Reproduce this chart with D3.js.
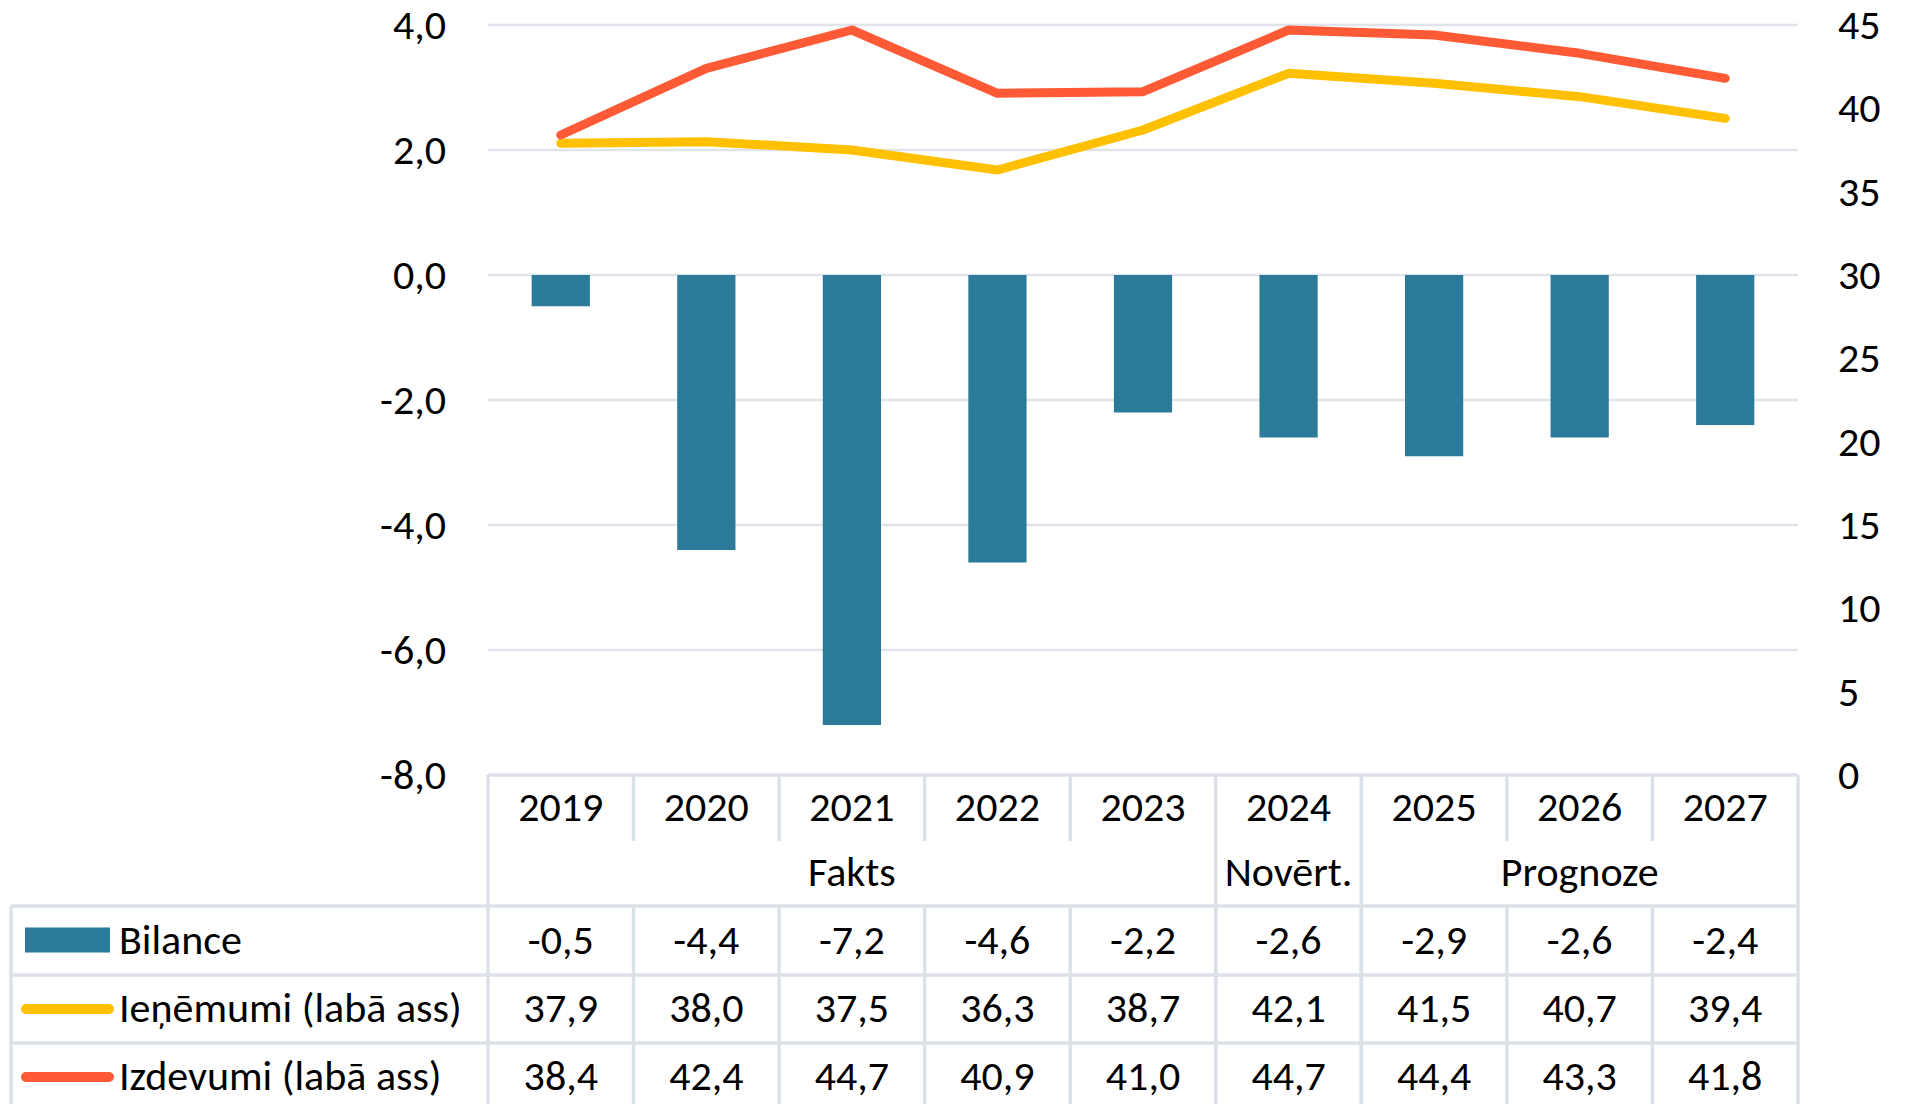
<!DOCTYPE html>
<html>
<head>
<meta charset="utf-8">
<script src="https://cdn.jsdelivr.net/npm/d3@7"></script>
<style>
  body { margin: 0; background: #fff; }
  svg text { font-family: Carlito, Lato, sans-serif; font-size: 42px; fill: #000; }
</style>
</head>
<body>
<div id="chart"></div>
<script>
// Data
var years = ["2019", "2020", "2021", "2022", "2023", "2024", "2025", "2026", "2027"];
var bilance = [-0.5, -4.4, -7.2, -4.6, -2.2, -2.6, -2.9, -2.6, -2.4];
var ienemumi = [37.9, 38.0, 37.5, 36.3, 38.7, 42.1, 41.5, 40.7, 39.4];
var izdevumi = [38.4, 42.4, 44.7, 40.9, 41.0, 44.7, 44.4, 43.3, 41.8];
var seriesNames = ["Bilance", "Ieņēmumi (labā ass)", "Izdevumi (labā ass)"];
var groupNames = ["Fakts", "Novērt.", "Prognoze"];
var groupFirst = ["2019", "2024", "2025"];
var groupLast = ["2023", "2024", "2027"];
var leftTicks = [-8, -6, -4, -2, 0, 2, 4];
var rightTicks = [0, 5, 10, 15, 20, 25, 30, 35, 40, 45];

// Setting up sizes
var svgWidth = 1906;
var svgHeight = 1104;
var plot = { left: 488, right: 1798, top: 25, bottom: 775 };
var tableLeft = 11;
var rowTops = [775, 841, 906, 975, 1043, 1111];

var colors = { bar: "#2C7A9A", rev: "#FFC000", exp: "#FF5A36", grid: "#E0E4EB", border: "#DCE1E8" };

// comma decimals and plain hyphen minus
var locale = d3.formatLocale({ decimal: ",", thousands: " ", grouping: [3], currency: ["", ""], minus: "-" });
var fmt = locale.format(".1f");

var svg = d3.select("#chart")
  .append("svg")
  .attr("width", svgWidth)
  .attr("height", svgHeight);

// Scales
var x = d3.scaleBand()
  .domain(years)
  .range([plot.left, plot.right]);

var yLeft = d3.scaleLinear()
  .domain([-8, 4])
  .range([plot.bottom, plot.top]);

var yRight = d3.scaleLinear()
  .domain([0, 45])
  .range([plot.bottom, plot.top]);

// Gridlines
svg.append("g")
  .selectAll("line")
  .data(leftTicks.filter(d => d !== -8))
  .enter()
  .append("line")
  .attr("x1", plot.left)
  .attr("x2", plot.right)
  .attr("y1", d => yLeft(d))
  .attr("y2", d => yLeft(d))
  .attr("stroke", colors.grid)
  .attr("stroke-width", 2.5);

// Left axis
var leftAxis = svg.append("g")
  .attr("transform", `translate(${plot.left - 42}, 0)`)
  .call(d3.axisLeft(yLeft).tickValues(leftTicks).tickSize(0).tickPadding(0).tickFormat(fmt));
leftAxis.select(".domain").remove();
leftAxis.selectAll("text").attr("font-size", null).attr("font-family", null);

// Right axis
var rightAxis = svg.append("g")
  .attr("transform", `translate(${plot.right + 40}, 0)`)
  .call(d3.axisRight(yRight).tickValues(rightTicks).tickSize(0).tickPadding(0));
rightAxis.select(".domain").remove();
rightAxis.selectAll("text").attr("font-size", null).attr("font-family", null);
svg.selectAll(".tick text").attr("fill", "#000");

// Bars
var barW = x.bandwidth() * 0.4;
svg.append("g")
  .selectAll("rect")
  .data(bilance)
  .enter()
  .append("rect")
  .attr("x", (d, i) => x(years[i]) + (x.bandwidth() - barW) / 2)
  .attr("y", d => yLeft(Math.max(0, d)))
  .attr("width", barW)
  .attr("height", d => Math.abs(yLeft(d) - yLeft(0)))
  .attr("fill", colors.bar);

// Lines
var line = d3.line()
  .x((d, i) => x(years[i]) + x.bandwidth() / 2)
  .y(d => yRight(d));

svg.append("path")
  .datum(ienemumi)
  .attr("d", line)
  .attr("fill", "none")
  .attr("stroke", colors.rev)
  .attr("stroke-width", 9)
  .attr("stroke-linecap", "round")
  .attr("stroke-linejoin", "round");

svg.append("path")
  .datum(izdevumi)
  .attr("d", line)
  .attr("fill", "none")
  .attr("stroke", colors.exp)
  .attr("stroke-width", 9)
  .attr("stroke-linecap", "round")
  .attr("stroke-linejoin", "round");

// ---------------- Data table ----------------
var table = svg.append("g");

function border(x1, y1, x2, y2) {
  table.append("line")
    .attr("x1", x1).attr("y1", y1)
    .attr("x2", x2).attr("y2", y2)
    .attr("stroke", colors.border)
    .attr("stroke-width", 3.5);
}

// horizontal lines
border(plot.left, rowTops[0], plot.right, rowTops[0]);
for (var r = 2; r < rowTops.length; r++) {
  border(tableLeft, rowTops[r], plot.right, rowTops[r]);
}
// outer verticals
border(tableLeft, rowTops[2], tableLeft, rowTops[5]);
border(plot.left, rowTops[0], plot.left, rowTops[5]);
border(plot.right, rowTops[0], plot.right, rowTops[5]);
// inner year separators
years.slice(1).forEach(function(y) {
  var xx = x(y);
  var isGroupEdge = groupFirst.indexOf(y) >= 0;
  border(xx, rowTops[0], xx, isGroupEdge ? rowTops[5] : rowTops[1]);
  border(xx, rowTops[2], xx, rowTops[5]);
});

// year labels
table.selectAll(".year")
  .data(years)
  .enter()
  .append("text")
  .attr("x", d => x(d) + x.bandwidth() / 2)
  .attr("y", (rowTops[0] + rowTops[1]) / 2)
  .attr("dy", "0.3em")
  .attr("text-anchor", "middle")
  .text(d => d);

// group labels
table.selectAll(".group")
  .data(groupNames)
  .enter()
  .append("text")
  .attr("x", (d, i) => (x(groupFirst[i]) + x(groupLast[i]) + x.bandwidth()) / 2)
  .attr("y", (rowTops[1] + rowTops[2]) / 2)
  .attr("dy", "0.3em")
  .attr("text-anchor", "middle")
  .text(d => d);

// value rows
var rowsData = [bilance, ienemumi, izdevumi];
rowsData.forEach(function(values, r) {
  var cy = (rowTops[r + 2] + rowTops[r + 3]) / 2;
  table.selectAll(".v" + r)
    .data(values)
    .enter()
    .append("text")
    .attr("x", (d, i) => x(years[i]) + x.bandwidth() / 2)
    .attr("y", cy)
    .attr("dy", "0.31em")
    .attr("text-anchor", "middle")
    .text(d => fmt(d));

  // legend key
  if (r === 0) {
    table.append("rect")
      .attr("x", 25).attr("y", cy - 13)
      .attr("width", 85).attr("height", 25)
      .attr("fill", colors.bar);
  } else {
    table.append("line")
      .attr("x1", 26).attr("x2", 109)
      .attr("y1", cy).attr("y2", cy)
      .attr("stroke", r === 1 ? colors.rev : colors.exp)
      .attr("stroke-width", 10)
      .attr("stroke-linecap", "round");
  }
  table.append("text")
    .attr("x", 119)
    .attr("y", cy)
    .attr("dy", "0.31em")
    .text(seriesNames[r]);
});
</script>
</body>
</html>
